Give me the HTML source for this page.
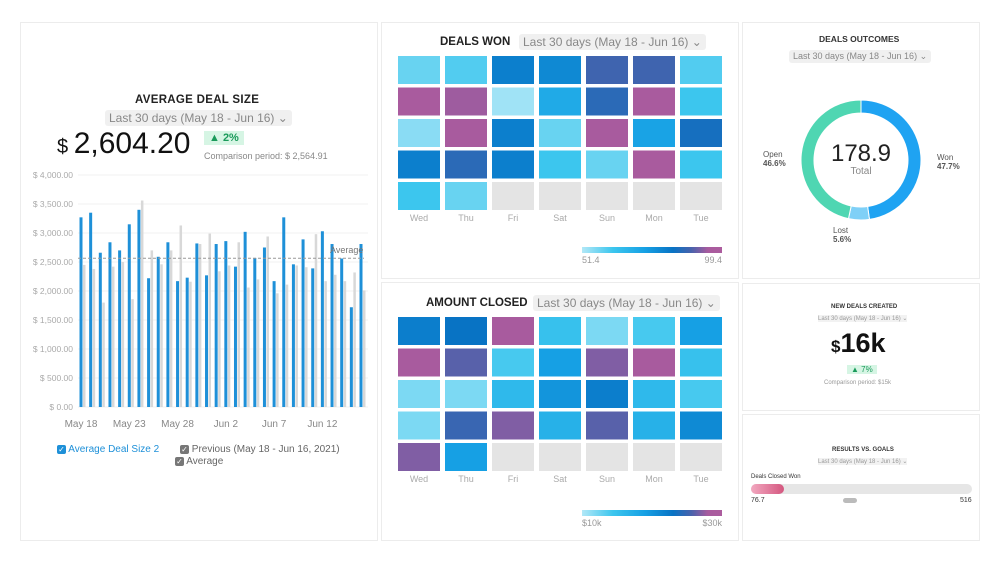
<!DOCTYPE html>
<html><head><meta charset="utf-8"><style>
body{margin:0;width:1000px;height:563px;background:#fff;font-family:"Liberation Sans",sans-serif;overflow:hidden;position:relative}
.p{position:absolute;border:1px solid #ececec;background:#fff;box-sizing:border-box}
.t{position:absolute;white-space:nowrap}
.dd{background:#f0f0f0;color:#888;border-radius:3px;padding:1px 4px}
</style></head><body>
<div class="p" style="left:20px;top:22px;width:358px;height:519px"></div>
<div class="p" style="left:381px;top:22px;width:358px;height:257px"></div>
<div class="p" style="left:381px;top:282px;width:358px;height:259px"></div>
<div class="p" style="left:742px;top:22px;width:238px;height:257px"></div>
<div class="p" style="left:742px;top:283px;width:238px;height:128px"></div>
<div class="p" style="left:742px;top:414px;width:238px;height:127px"></div>

<div class="t" style="left:135px;top:94px;font-size:11.5px;font-weight:bold;color:#222;letter-spacing:.3px">AVERAGE DEAL SIZE</div>
<div class="t dd" style="left:105px;top:110px;font-size:12px">Last 30 days (May 18 - Jun 16) ⌄</div>
<div class="t" style="left:57px;top:127px;font-size:30px;color:#111"><span style="font-size:20px">$ </span>2,604.20</div>
<div class="t" style="left:204px;top:131px;font-size:11px;color:#1a9a5a;background:#d6f5e4;padding:1px 5px;font-weight:bold">▲ 2%</div>
<div class="t" style="left:204px;top:151px;font-size:9px;color:#888">Comparison period: $ 2,564.91</div>

<svg id="bars" style="position:absolute;left:0;top:0" width="1000" height="563"></svg>

<div class="t" style="left:57px;top:444px;font-size:10px;color:#1e90d8"><span style="display:inline-block;width:9px;height:9px;background:#1e90d8;border-radius:2px;color:#fff;font-size:8px;line-height:9px;text-align:center">✓</span> Average Deal Size 2</div>
<div class="t" style="left:180px;top:444px;font-size:10px;color:#666"><span style="display:inline-block;width:9px;height:9px;background:#777;border-radius:2px;color:#fff;font-size:8px;line-height:9px;text-align:center">✓</span> Previous (May 18 - Jun 16, 2021)</div>
<div class="t" style="left:175px;top:456px;font-size:10px;color:#666"><span style="display:inline-block;width:9px;height:9px;background:#777;border-radius:2px;color:#fff;font-size:8px;line-height:9px;text-align:center">✓</span> Average</div>

<div class="t" style="left:440px;top:36px;font-size:11.5px;font-weight:bold;color:#222">DEALS WON</div>
<div class="t dd" style="left:519px;top:34px;font-size:12px">Last 30 days (May 18 - Jun 16) ⌄</div>
<div class="t" style="left:426px;top:297px;font-size:11.5px;font-weight:bold;color:#222">AMOUNT CLOSED</div>
<div class="t dd" style="left:533px;top:295px;font-size:12px">Last 30 days (May 18 - Jun 16) ⌄</div>

<div class="t" style="left:819px;top:34px;font-size:8.5px;font-weight:bold;color:#333">DEALS OUTCOMES</div>
<div class="t dd" style="left:789px;top:50px;font-size:9px">Last 30 days (May 18 - Jun 16) ⌄</div>
<div class="t" style="left:811px;top:140px;width:100px;text-align:center;font-size:24px;color:#222">178.9</div>
<div class="t" style="left:811px;top:166px;width:100px;text-align:center;font-size:10px;color:#888">Total</div>
<div class="t" style="left:763px;top:150px;font-size:8px;color:#555">Open<br><b>46.6%</b></div>
<div class="t" style="left:937px;top:153px;font-size:8px;color:#555">Won<br><b>47.7%</b></div>
<div class="t" style="left:833px;top:226px;font-size:8px;color:#555">Lost<br><b>5.6%</b></div>

<div class="t" style="left:831px;top:304px;font-size:6px;font-weight:bold;color:#333">NEW DEALS CREATED</div>
<div class="t" style="left:818px;top:315px;font-size:6px;color:#999;background:#f2f2f2">Last 30 days (May 18 - Jun 16) ⌄</div>
<div class="t" style="left:831px;top:328px;font-size:27px;font-weight:bold;color:#111"><span style="font-size:17px">$</span>16k</div>
<div class="t" style="left:847px;top:365px;font-size:8px;color:#1a9a5a;background:#d6f5e4;padding:0 4px">▲ 7%</div>
<div class="t" style="left:824px;top:380px;font-size:6px;color:#999">Comparison period: $15k</div>

<div class="t" style="left:832px;top:447px;font-size:6px;font-weight:bold;color:#333">RESULTS VS. GOALS</div>
<div class="t" style="left:818px;top:458px;font-size:6px;color:#999;background:#f2f2f2">Last 30 days (May 18 - Jun 16) ⌄</div>
<div class="t" style="left:751px;top:474px;font-size:6px;color:#333">Deals Closed Won</div>
<div style="position:absolute;left:751px;top:484px;width:221px;height:10px;border-radius:5px;background:#e6e6e6"></div>
<div style="position:absolute;left:751px;top:484px;width:33px;height:10px;border-radius:5px;background:linear-gradient(90deg,#f2a8c0,#d4577f)"></div>
<div class="t" style="left:751px;top:497px;font-size:7px;color:#333">76.7</div>
<div class="t" style="left:843px;top:498px;width:14px;height:5px;border-radius:3px;background:#bbb"></div>
<div class="t" style="left:960px;top:497px;font-size:7px;color:#333">516</div>

<script>
const NS="http://www.w3.org/2000/svg";
const svg=document.getElementById('bars');
function mk(t,a,p){const e=document.createElementNS(NS,t);for(const k in a)e.setAttribute(k,a[k]);(p||svg).appendChild(e);return e;}
const current=[3270,3350,2660,2840,2700,3150,3400,2220,2590,2840,2170,2230,2820,2270,2810,2860,2420,3020,2570,2750,2170,3270,2460,2890,2390,3030,2810,2560,1720,2810];
const previous=[2450,2380,1800,2420,2500,1860,3560,2700,2460,2700,3130,2160,2810,2990,2340,2440,2840,2060,2200,2940,1960,2110,2440,2410,2980,2170,2280,2170,2320,2010];
const avgValue=2564.91;
const yTicks=[0,500,1000,1500,2000,2500,3000,3500,4000];
const yTickLabels=["$ 0.00","$ 500.00","$ 1,000.00","$ 1,500.00","$ 2,000.00","$ 2,500.00","$ 3,000.00","$ 3,500.00","$ 4,000.00"];
const xLabels=["May 18","May 23","May 28","Jun 2","Jun 7","Jun 12"];
const xLabelIdx=[0,5,10,15,20,25];
const y=v=>407-v*232/4000;
const x=i=>81+i*(280/29);
yTicks.forEach((t,i)=>{
 const l=mk('line',{x1:78,x2:368,y1:y(t),y2:y(t),stroke:'#f2f2f2'});
 
 const tx=mk('text',{x:73,y:y(t)+3,'text-anchor':'end','font-size':8.5,fill:'#aaa'});tx.textContent=yTickLabels[i];
 
});
previous.forEach((v,i)=>{
 const r=mk('rect',{x:x(i)+2,y:y(v),width:2.5,height:y(0)-y(v),fill:'#d8d8d8'});
 
});
current.forEach((v,i)=>{
 const r=mk('rect',{x:x(i)-1.5,y:y(v),width:3,height:y(0)-y(v),fill:'#1e90d8'});
 
});
const al=mk('line',{x1:78,x2:364,y1:y(avgValue),y2:y(avgValue),stroke:'#999','stroke-dasharray':'3,2'});

const at=mk('text',{x:330,y:y(avgValue)-5,'font-size':9,fill:'#777'});at.textContent='Average';

xLabels.forEach((s,i)=>{
 const t=mk('text',{x:x(xLabelIdx[i]),y:427,'text-anchor':'middle','font-size':10,fill:'#888'});t.textContent=s;
 
});
const days=["Wed","Thu","Fri","Sat","Sun","Mon","Tue"];
const wonValues=[[58,60,80,78,88,88,60],[96,94,53,70,86,96,62],[55,95,80,58,95,72,84],[80,86,80,62,58,96,62],[62,58,null,null,null,null,null]];
const closedValues=[[22,23,28,15,12,14,19],[28,26,14,19,27,28,15],[12,12,16,20,22,16,14],[12,25,27,17,26,17,21],[27,19,null,null,null,null,null]];
const stops=[[0,[178,232,247]],[0.22,[60,198,238]],[0.45,[22,160,228]],[0.65,[8,115,196]],[0.78,[72,98,172]],[0.9,[168,91,158]],[1,[172,92,158]]];
function col(f){f=Math.max(0,Math.min(1,f));for(let i=1;i<stops.length;i++){if(f<=stops[i][0]){const a=stops[i-1],b=stops[i],t=(f-a[0])/(b[0]-a[0]);return 'rgb('+a[1].map((c,k)=>Math.round(c+(b[1][k]-c)*t)).join(',')+')';}}}
function heat(vals,min,max,top,legTop,lmin,lmax,name){
 vals.forEach((row,r)=>row.forEach((v,c)=>{
  const e=mk('rect',{x:398+c*47,y:top+r*31.5,width:42,height:28,fill:v==null?'#e4e4e4':col((v-min)/(max-min))});
  
 }));
 days.forEach((d,c)=>{const t=mk('text',{x:419+c*47,y:top+165,'text-anchor':'middle','font-size':9,fill:'#aaa'});t.textContent=d;
  });
 const g=mk('linearGradient',{id:name+'g'});stops.forEach(s=>mk('stop',{offset:s[0],'stop-color':col(s[0])},g));
 const lg=mk('rect',{x:582,y:legTop,width:140,height:6,fill:'url(#'+name+'g)'});
 
 const a=mk('text',{x:582,y:legTop+16,'font-size':9,fill:'#999'});a.textContent=lmin;
 
 const b=mk('text',{x:722,y:legTop+16,'text-anchor':'end','font-size':9,fill:'#999'});b.textContent=lmax;
 
}
heat(wonValues,51.4,99.4,56,247,'51.4','99.4','deals-won');
heat(closedValues,10,30,317,510,'$10k','$30k','amount-closed');
const outcomeLabels=["Won","Lost","Open"];
const outcomeValues=[47.7,5.6,46.6];
const outcomeColors=['#1fa3f2','#7fd0f7','#4fd6b2'];
const tot=outcomeValues.reduce((a,b)=>a+b,0);let ang=-Math.PI/2;
const cx=861,cy=160,R=60,r0=47;
outcomeValues.forEach((v,i)=>{
 const a2=ang+v/tot*2*Math.PI,lg=(a2-ang)>Math.PI?1:0;
 const p=(rr,a)=>[cx+rr*Math.cos(a),cy+rr*Math.sin(a)];
 const [x1,y1]=p(R,ang),[x2,y2]=p(R,a2),[x3,y3]=p(r0,a2),[x4,y4]=p(r0,ang);
 const e=mk('path',{d:`M${x1},${y1}A${R},${R} 0 ${lg} 1 ${x2},${y2}L${x3},${y3}A${r0},${r0} 0 ${lg} 0 ${x4},${y4}Z`,fill:outcomeColors[i],stroke:'#fff','stroke-width':1});
 
 ang=a2;
});
</script>
</body></html>
